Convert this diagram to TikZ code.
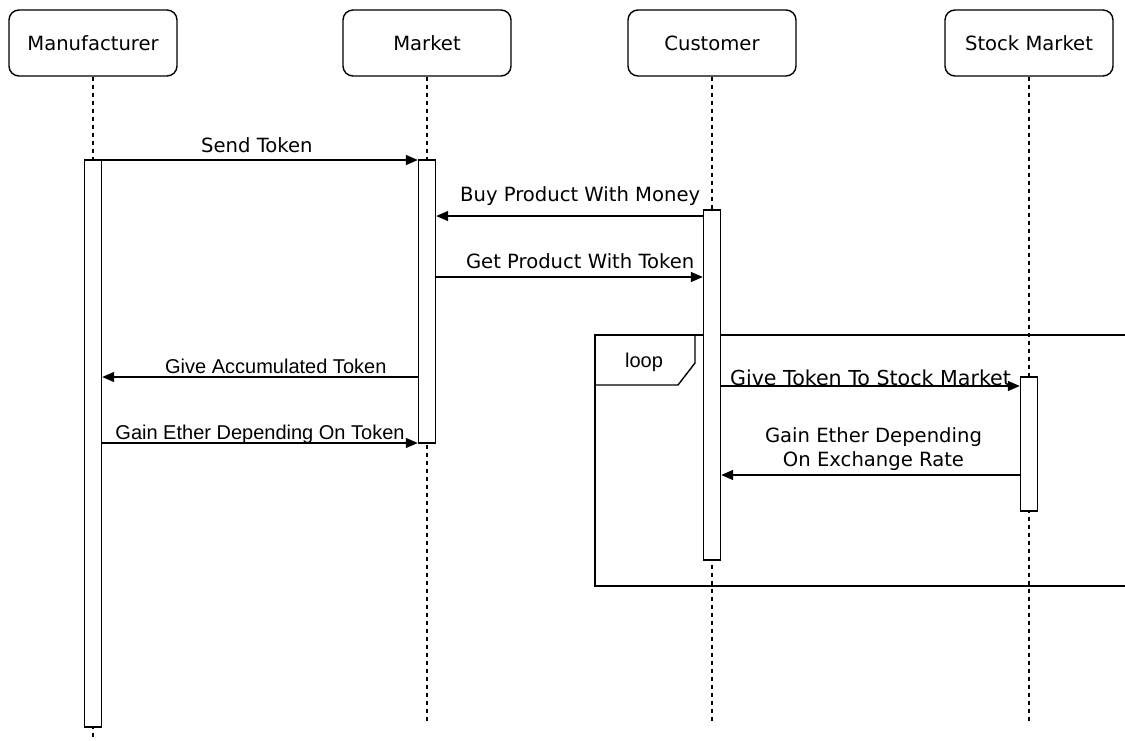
\documentclass[tikz,border=0pt]{standalone}
\usepackage{fontspec}
\setmainfont{DejaVu Sans}
\newfontfamily\arialfont{Liberation Sans}
\usetikzlibrary{arrows.meta,fit}

\begin{document}
\begin{tikzpicture}[x=0.5pt, y=-0.5pt, line width=0.7pt,
  every node/.style={font=\fontsize{9.8}{12}\selectfont},
  >={Triangle[length=6pt,width=5pt]},
  head/.style={draw, rounded corners=5pt, minimum width=84pt, minimum height=33pt, inner sep=0pt},
  lifeline/.style={dash pattern=on 2pt off 2pt},
  actbar/.style={draw, fill=white, inner sep=0pt, minimum width=8.5pt},
  msg/.style={->},
  lbl/.style={anchor=base, inner sep=0pt},
  albl/.style={lbl, font=\arialfont\fontsize{10}{12}\selectfont}]

\useasboundingbox (0,0) rectangle (1125,740);

% participants
\node[head] (mf) at (93,43)   {Manufacturer};
\node[head] (mk) at (427,43)  {Market};
\node[head] (cu) at (712,43)  {Customer};
\node[head] (sm) at (1029,43) {Stock Market};

% lifelines
\draw[lifeline] (mf.south) -- (93,740);
\draw[lifeline] (mk.south) -- (427,722);
\draw[lifeline] (cu.south) -- (712,722);
\draw[lifeline] (sm.south) -- (1029,722);

% loop frame
\draw (1125,335) -- (595,335) -- (595,586) -- (1125,586);
\draw (595,335) -- (695,335) -- (695,363) -- (678,385) -- (595,385);
\node[albl] (loop) at (644,367) {loop};

% activation bars
\node[actbar, fit={(93,160) (93,727)}]   (mfbar) {};
\node[actbar, fit={(427,160) (427,443)}] (mkbar) {};
\node[actbar, fit={(712,210) (712,560)}] (cubar) {};
\node[actbar, fit={(1029,377) (1029,511)}] (smbar) {};

% message rows
\coordinate (send)  at (0,160);
\coordinate (buy)   at (0,216);
\coordinate (get)   at (0,277);
\coordinate (give)  at (0,377);
\coordinate (gain)  at (0,443);
\coordinate (stock) at (0,386);
\coordinate (rate)  at (0,475);

% messages
\draw[msg] (mfbar.east |- send) -- node[lbl, pos=0.49, yshift=4pt] {Send Token} (mkbar.west |- send);
\draw[msg] (cubar.west |- buy) -- node[lbl, pos=0.46, yshift=7.5pt] {Buy Product With Money} (mkbar.east |- buy);
\draw[msg] (mkbar.east |- get) -- node[lbl, pos=0.54, yshift=4.5pt] {Get Product With Token} (cubar.west |- get);
\draw[msg] (mkbar.west |- give) -- node[albl, pos=0.45, yshift=2pt] {Give Accumulated Token} (mfbar.east |- give);
\draw[msg] (mfbar.east |- gain) -- node[albl, pos=0.5, yshift=2pt] {Gain Ether Depending On Token} (mkbar.west |- gain);
\draw[msg] (cubar.east |- stock) -- node[lbl, pos=0.5, yshift=0.5pt, font=\fontsize{10.3}{12}\selectfont] {Give Token To Stock Market} (smbar.west |- stock);
\draw[msg] (smbar.west |- rate) -- node[anchor=south, inner sep=0pt, pos=0.49, yshift=1.7pt, align=center] {Gain Ether Depending\\ On Exchange Rate} (cubar.east |- rate);

\end{tikzpicture}
\end{document}
